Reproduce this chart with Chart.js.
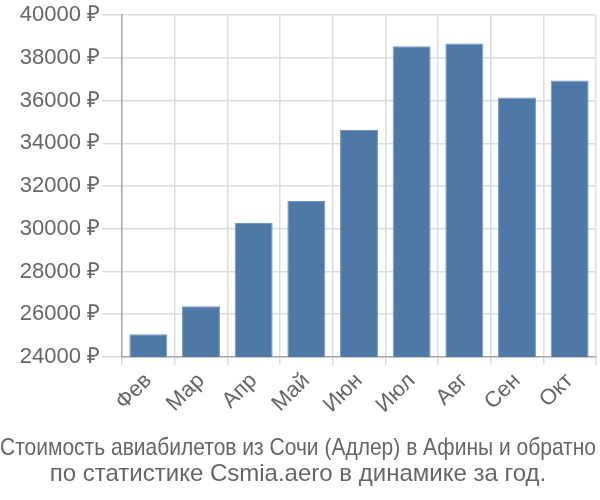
<!DOCTYPE html>
<html>
<head>
<meta charset="utf-8">
<script src="https://cdn.jsdelivr.net/npm/chart.js@4"></script>
<style>
  html, body { margin: 0; padding: 0; background: #fff; }
  #wrap { width: 600px; height: 500px; }
</style>
</head>
<body>
<div id="wrap"><canvas id="chart"></canvas></div>
<script>
const months = ['Фев', 'Мар', 'Апр', 'Май', 'Июн', 'Июл', 'Авг', 'Сен', 'Окт']
const prices = [25060, 26370, 30270, 31300, 34620, 38550, 38680, 36150, 36940]
const titleLines = [
  'Стоимость авиабилетов из Сочи (Адлер) в Афины и обратно',
  'по статистике Csmia.aero в динамике за год.'
]

const textColor = '#666'
const fontFamily = '"Liberation Sans", Arial, sans-serif'

const ctx = document.getElementById('chart').getContext('2d')
new Chart(ctx, {
  type: 'bar',
  data: {
    labels: months,
    datasets: [{
      data: prices,
      backgroundColor: 'rgb(78, 121, 167)',
      borderColor: 'rgb(110, 150, 190)',
      borderWidth: 1
    }]
  },
  options: {
    animation: false,
    responsive: true,
    maintainAspectRatio: false,
    layout: { padding: { top: 8, right: 4, left: 0, bottom: 12 } },
    plugins: {
      legend: { display: false },
      tooltip: { enabled: false },
      title: {
        display: true,
        position: 'bottom',
        text: titleLines,
        color: textColor,
        font: { family: fontFamily, size: 24, weight: 'normal', lineHeight: 1.1 },
        padding: { top: 14, bottom: 0 }
      }
    },
    scales: {
      x: {
        grid: { color: '#ddd', lineWidth: 1.5, tickLength: 8 },
        border: { color: '#aaa', width: 1.5 },
        ticks: {
          color: textColor,
          font: { family: fontFamily, size: 22 },
          maxRotation: 45,
          minRotation: 45
        }
      },
      y: {
        min: 24000,
        max: 40000,
        // keep the axis line where the picture has it
        afterFit: (scale) => { scale.width = 122 },
        grid: { color: '#ddd', lineWidth: 1.5, tickLength: 20 },
        border: { color: '#aaa', width: 1.5 },
        ticks: {
          stepSize: 2000,
          color: textColor,
          padding: 2,
          font: { family: fontFamily, size: 22 },
          callback: (v) => v + ' ₽'
        }
      }
    }
  }
})
</script>
</body>
</html>
